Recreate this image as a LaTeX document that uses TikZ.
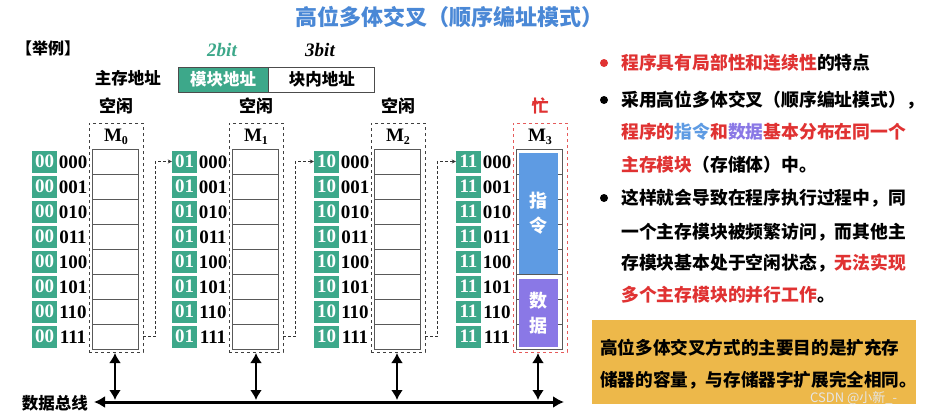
\documentclass[tikz,border=0pt]{standalone}
\usepackage{fontspec}
\setmainfont{Noto Sans CJK SC}
\newfontfamily\numf{Liberation Serif}[BoldFont={Liberation Serif Bold}, BoldItalicFont={Liberation Serif Bold Italic}]
\newfontfamily\wmf{Noto Sans CJK SC}
\usetikzlibrary{arrows.meta}
\definecolor{tgreen}{HTML}{3DA88A}
\definecolor{tblue}{HTML}{4A88D6}
\definecolor{tred}{HTML}{E03232}
\definecolor{iblue}{HTML}{5E9BE3}
\definecolor{dpurple}{HTML}{8A78E6}
\definecolor{tyellow}{HTML}{EDB84A}
\tikzset{
  cjk/.style={font=\fontsize{#1}{#1}\selectfont\bfseries, inner sep=0pt},
  cell/.style={draw=black!65, line width=0.8pt, minimum width=46pt, minimum height=25pt, inner sep=0pt, outer sep=0pt},
  gbox/.style={fill=tgreen, text=white, minimum width=25pt, minimum height=22pt, inner sep=0pt, font=\numf\bfseries\fontsize{19}{19}\selectfont},
  lowbits/.style={inner sep=0pt, font=\numf\bfseries\fontsize{19}{19}\selectfont},
  modbox/.style={draw=black!75, dashed, line width=0.8pt, minimum width=54pt, minimum height=229pt, inner sep=0pt},
  link/.style={draw=black!80, densely dashed, line width=0.8pt, -{Stealth[length=4pt,width=4pt]}},
  thickarrow/.style={line width=2.6pt, {Latex[length=10pt,width=12pt]}-{Latex[length=10pt,width=12pt]}},
  bullet/.style={circle, inner sep=0pt, minimum size=8pt},
}
\begin{document}
\begin{tikzpicture}[x=1pt,y=-1pt]
\useasboundingbox (0,0) rectangle (929,413);
\fill[white] (0,0) rectangle (929,413);

% title
\node[cjk=22, text=tblue] (title) at (449,17) {高位多体交叉（顺序编址模式）};

% example header
\node[cjk=16, anchor=west] (eg) at (16,48) {【举例】};
\node[inner sep=0pt, text=tgreen, font=\numf\bfseries\itshape\fontsize{19}{19}\selectfont] (b2) at (222,50) {2bit};
\node[inner sep=0pt, font=\numf\bfseries\itshape\fontsize{19}{19}\selectfont] (b3) at (320,50) {3bit};
\node[cjk=16.5, anchor=east] (mainaddr) at (161,78) {主存地址};
\node[fill=tgreen, draw=black!70, line width=0.8pt, text=white, minimum width=90pt, minimum height=25pt, inner sep=0pt, font=\fontsize{16.5}{16.5}\selectfont\bfseries] (modaddr) at (223,79.5) {模块地址};
\node[draw=black!70, line width=0.8pt, minimum width=106pt, minimum height=25pt, inner sep=0pt, font=\fontsize{16.5}{16.5}\selectfont\bfseries, anchor=west] (inaddr) at (modaddr.east) {块内地址};

% modules
\foreach \i/\L/\b/\st/\sc in {0/89/00/空闲/black, 1/229/01/空闲/black, 2/371/10/空闲/black, 3/513/11/忙/tred} {
  \node[cjk=17, text=\sc] (st\i) at ({\L+27},106) {\st};
  \node[inner sep=0pt, font=\numf\bfseries\fontsize{19}{19}\selectfont] (ml\i) at ({\L+27},137) {M\raisebox{-0.35ex}{\fontsize{12}{12}\selectfont\i}};
  \foreach \j/\r in {0/000,1/001,2/010,3/011,4/100,5/101,6/110,7/111} {
    \node[cell] (c\i\j) at ({\L+26},{161.5+25*\j}) {};
    \node[gbox] (g\i\j) at ({\L-44.5},{161.5+25*\j}) {\b};
    \node[lowbits] (r\i\j) at ({\L-16},{162.5+25*\j}) {\r};
  }
}
\node[modbox] (m0) at (116,237.5) {};
\node[modbox] (m1) at (256,237.5) {};
\node[modbox] (m2) at (398,237.5) {};
\node[modbox, draw=tred!80] (m3) at (540,237.5) {};

% M3 contents
\node[fill=iblue, minimum width=39pt, minimum height=121pt, inner sep=0pt] (instr) at (538.5,213.5) {};
\node[fill=dpurple, minimum width=39pt, minimum height=68pt, inner sep=0pt] (data) at (538.5,313) {};
\node[cjk=18, text=white, align=center] (instrt) at (instr) {指\\[7pt]令};
\node[cjk=18, text=white, align=center] (datat) at (data) {数\\[7pt]据};

% sequential links
\draw[link] (m0.east |- c07) -- ++(12,0) |- (g10.west);
\draw[link] (m1.east |- c17) -- ++(12,0) |- (g20.west);
\draw[link] (m2.east |- c27) -- ++(12,0) |- (g30.west);

% data bus
\coordinate (busL) at (94,402);
\coordinate (busR) at (564,402);
\draw[line width=3pt, {Latex[length=11pt,width=12pt]}-{Latex[length=11pt,width=12pt]}] (busL) -- (busR);
\node[cjk=16.5, anchor=east] (buslabel) at (88,403) {数据总线};
\foreach \i/\x in {0/115,1/256,2/397,3/538} {
  \coordinate (top\i) at (\x,353);
  \coordinate (bot\i) at (\x,400);
  \draw[thickarrow] (top\i) -- (bot\i);
}

% right panel
\node[bullet, fill=tred] (p1) at (604,63) {};
\node[bullet, fill=black] (p2) at (604,100) {};
\node[bullet, fill=black] (p3) at (604,198) {};
\node[cjk=17.8, anchor=west] (l1) at (621,63) {\textcolor{tred}{程序具有局部性和连续性}的特点};
\node[cjk=17.8, anchor=west] (l2) at (621,100) {采用高位多体交叉（顺序编址模式），};
\node[cjk=17.8, anchor=west] (l3) at (621,132) {\textcolor{tred}{程序的}\textcolor{iblue}{指令}\textcolor{tred}{和}\textcolor{dpurple}{数据}\textcolor{tred}{基本分布在同一个}};
\node[cjk=17.8, anchor=west] (l4) at (621,165) {\textcolor{tred}{主存模块}（存储体）中。};
\node[cjk=17.8, anchor=west] (l5) at (621,198) {这样就会导致在程序执行过程中，同};
\node[cjk=17.8, anchor=west] (l6) at (621,232) {一个主存模块被频繁访问，而其他主};
\node[cjk=17.8, anchor=west] (l7) at (621,263) {存模块基本处于空闲状态，\textcolor{tred}{无法实现}};
\node[cjk=17.8, anchor=west] (l8) at (621,295) {\textcolor{tred}{多个主存模块的并行工作}。};

% summary box
\node[fill=tyellow, minimum width=324pt, minimum height=84pt, inner sep=0pt] (sum) at (754,362) {};
\node[cjk=17.6, anchor=west] (s1) at (600,348) {高位多体交叉方式的主要目的是扩充存};
\node[cjk=17.6, anchor=west] (s2) at (600,380) {储器的容量，与存储器字扩展完全相同。};
\node[inner sep=0pt, anchor=west, text=white!80!gray, font=\wmf\fontsize{13}{13}\selectfont] (wm) at (810,398) {CSDN @小新\_-};
\end{tikzpicture}
\end{document}
